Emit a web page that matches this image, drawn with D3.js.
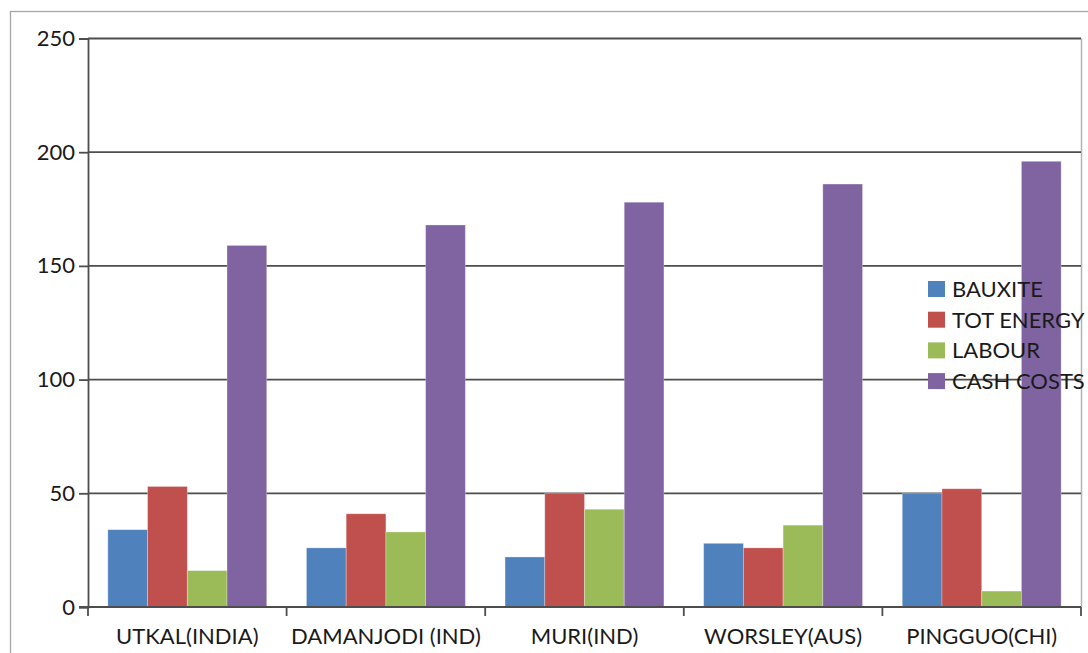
<!DOCTYPE html>
<html>
<head>
<meta charset="utf-8">
<script src="https://cdn.jsdelivr.net/npm/d3@7"></script>
<style>
  html, body { margin: 0; padding: 0; background: #fff; }
  svg { display: block; }
  text { font-family: Lato, "Open Sans", sans-serif; fill: #1a1a1a; }
</style>
</head>
<body>
<svg id="chart" width="1088" height="653"></svg>
<script>
// Alumina refinery cost breakdown by site
const categories = ["UTKAL(INDIA)", "DAMANJODI (IND)", "MURI(IND)", "WORSLEY(AUS)", "PINGGUO(CHI)"];
const seriesNames = ["BAUXITE", "TOT ENERGY", "LABOUR", "CASH COSTS"];
const bauxite   = [34, 26, 22, 28, 50];
const totEnergy = [53, 41, 50, 26, 52];
const labour    = [16, 33, 43, 36, 7];
const cashCosts = [159, 168, 178, 186, 196];
const yTicks = [0, 50, 100, 150, 200, 250];
const colors = ["#4F81BD", "#C0504D", "#9BBB59", "#8064A2"];

const seriesValues = [bauxite, totEnergy, labour, cashCosts];

const svg = d3.select("#chart");
const plot = { left: 88, right: 1081, top: 38.5, bottom: 607 };
const fontSize = 22;

// Chart frame
svg.append("rect")
  .attr("x", 10.5).attr("y", 11.5)
  .attr("width", 1200).attr("height", 800)
  .attr("fill", "none").attr("stroke", "#a6a6a6").attr("stroke-width", 1.3);

const x0 = d3.scaleBand().domain(categories).range([plot.left, plot.right]).padding(0);
const x1 = d3.scaleBand().domain(seriesNames)
  .range([x0.bandwidth() * 0.1, x0.bandwidth() * 0.9]).padding(0);
const y = d3.scaleLinear().domain([0, 250]).range([plot.bottom, plot.top]);

// Plot area right edge
svg.append("line")
  .attr("x1", plot.right + 0.5).attr("x2", plot.right + 0.5)
  .attr("y1", plot.top).attr("y2", plot.bottom)
  .attr("stroke", "#b3b3b3").attr("stroke-width", 1.5);

// Horizontal gridlines
svg.append("g").selectAll("line")
  .data(yTicks.filter(d => d > 0))
  .join("line")
  .attr("x1", plot.left).attr("x2", plot.right)
  .attr("y1", d => y(d)).attr("y2", d => y(d))
  .attr("stroke", "#4d4d4d").attr("stroke-width", 1.8);

// Bars
const groups = svg.append("g").selectAll("g")
  .data(categories)
  .join("g")
  .attr("transform", d => `translate(${x0(d)},0)`);

groups.selectAll("rect")
  .data((c, i) => seriesNames.map((s, j) => ({ s, j, v: seriesValues[j][i] })))
  .join("rect")
  .attr("x", d => x1(d.s))
  .attr("width", x1.bandwidth())
  .attr("y", d => y(d.v))
  .attr("height", d => y(0) - y(d.v))
  .attr("fill", d => colors[d.j])
  .attr("stroke", "rgba(255,255,255,0.35)")
  .attr("stroke-width", 0.8);

// Y axis
const yAxis = svg.append("g")
  .attr("transform", `translate(${plot.left},0)`)
  .call(d3.axisLeft(y).tickValues(yTicks).tickSize(9).tickPadding(4).tickFormat(d3.format("d")));
yAxis.select(".domain").attr("stroke", "#4d4d4d").attr("stroke-width", 1.8);
yAxis.selectAll(".tick line").attr("stroke", "#4d4d4d").attr("stroke-width", 1.8);
yAxis.selectAll(".tick text").attr("font-size", fontSize).attr("font-family", "Lato, sans-serif").attr("fill", "#1a1a1a");

// X axis with tick marks at category boundaries
const xAxisG = svg.append("g");
xAxisG.append("line")
  .attr("x1", plot.left - 9).attr("x2", plot.right)
  .attr("y1", plot.bottom).attr("y2", plot.bottom)
  .attr("stroke", "#4d4d4d").attr("stroke-width", 1.8);
const boundaries = categories.map(c => x0(c)).concat([x0(categories[categories.length - 1]) + x0.bandwidth()]);
xAxisG.selectAll("line.tk")
  .data(boundaries)
  .join("line")
  .attr("class", "tk")
  .attr("x1", d => d).attr("x2", d => d)
  .attr("y1", plot.bottom).attr("y2", plot.bottom + 9)
  .attr("stroke", "#4d4d4d").attr("stroke-width", 1.8);
xAxisG.selectAll("text")
  .data(categories)
  .join("text")
  .attr("x", d => x0(d) + x0.bandwidth() / 2)
  .attr("y", 644)
  .attr("text-anchor", "middle")
  .attr("font-size", fontSize)
  .text(d => d);

// Legend
const legend = svg.append("g").attr("transform", "translate(928,281)");
const items = legend.selectAll("g")
  .data(seriesNames)
  .join("g")
  .attr("transform", (d, i) => `translate(0,${i * 30.7})`);
items.append("rect")
  .attr("width", 17).attr("height", 16)
  .attr("fill", (d, i) => colors[i]);
items.append("text")
  .attr("x", 24).attr("y", 16)
  .attr("font-size", fontSize)
  .text(d => d);
</script>
</body>
</html>
